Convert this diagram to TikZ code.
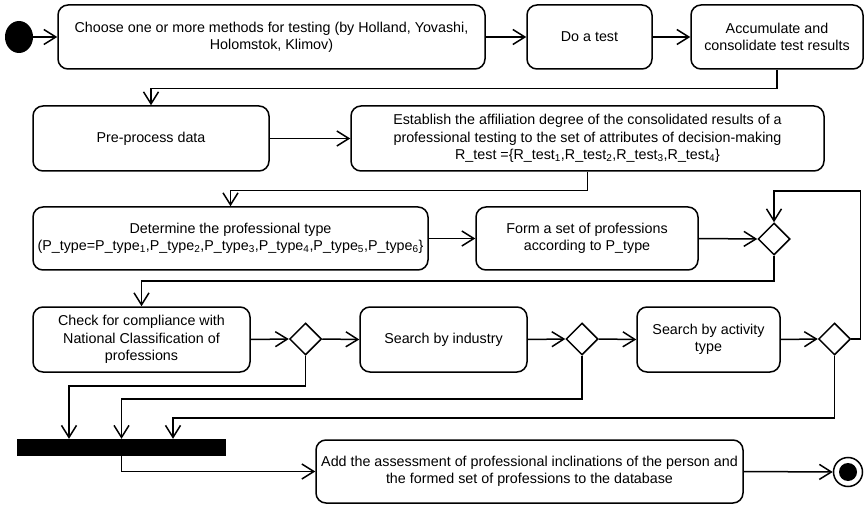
\documentclass[tikz,border=0pt]{standalone}
\usepackage{fontspec}
\setmainfont{Liberation Sans}
\usetikzlibrary{arrows.meta,shapes.geometric}
\begin{document}
\begin{tikzpicture}[x=1pt,y=-1pt,
  every node/.style={font=\fontsize{14.3}{17.2}\selectfont},
  act/.style={draw,rounded corners=10pt,line width=1.5pt,align=center,inner sep=0pt},
  dec/.style={draw,diamond,line width=1.5pt,minimum width=32pt,minimum height=32pt,inner sep=0pt},
  flow/.style={line width=1.5pt,-{Straight Barb[length=12pt,width=15pt,line width=1.5pt]}},
]
\useasboundingbox (0,0) rectangle (865,505);

% initial and final states
\node[ellipse,fill,minimum width=28pt,minimum height=32pt,inner sep=0pt] (st) at (19,37) {};
\node[circle,draw,line width=1.5pt,minimum size=29pt,inner sep=0pt] (en) at (848,472) {};
\node[circle,fill,minimum size=18pt,inner sep=0pt] (enin) at (848,472) {};

% activities
\node[act,minimum width=427pt,minimum height=64pt] (b1) at (271.5,37)
  {Choose one or more methods for testing (by Holland, Yovashi,\\Holomstok, Klimov)};
\node[act,minimum width=125pt,minimum height=64pt] (b2) at (589.5,37) {Do a test};
\node[act,minimum width=172pt,minimum height=64pt] (b3) at (777,37)
  {Accumulate and\\consolidate test results};
\node[act,minimum width=236pt,minimum height=65pt] (b4) at (151,138.5) {Pre-process data};
\node[act,minimum width=473pt,minimum height=65pt] (b5) at (587.5,138.5)
  {Establish the affiliation degree of the consolidated results of a\\
   professional testing to the set of attributes of decision-making\\
   R\_test =\{R\_test\textsubscript{1},R\_test\textsubscript{2},R\_test\textsubscript{3},R\_test\textsubscript{4}\}};
\node[act,minimum width=395pt,minimum height=63pt] (b6) at (230.5,238.5)
  {Determine the professional type\\
   (P\_type=P\_type\textsubscript{1},P\_type\textsubscript{2},P\_type\textsubscript{3},P\_type\textsubscript{4},P\_type\textsubscript{5},P\_type\textsubscript{6}\}};
\node[act,minimum width=222pt,minimum height=63pt] (b7) at (587,238.5)
  {Form a set of professions\\according to P\_type};
\node[act,minimum width=217pt,minimum height=65pt] (b8) at (141.5,339.5)
  {Check for compliance with\\National Classification of\\professions};
\node[act,minimum width=167pt,minimum height=65pt] (b9) at (443.5,339.5) {Search by industry};
\node[act,minimum width=143pt,minimum height=65pt] (b10) at (708.5,339.5)
  {Search by activity\\type};
\node[act,minimum width=427pt,minimum height=63pt] (b11) at (529.5,471.5)
  {Add the assessment of professional inclinations of the person and\\
   the formed set of professions to the database};

% decisions
\node[dec] (d1) at (774,239) {};
\node[dec] (d2) at (305.5,339) {};
\node[dec] (d3) at (582,339) {};
\node[dec] (d4) at (834.5,339) {};

% join bar
\node[fill,minimum width=209pt,minimum height=17pt,inner sep=0pt] (bar) at (121.5,447.5) {};

% flows
\draw[flow] (st.east) -- (b1.west);
\draw[flow] (b1.east) -- (b2.west);
\draw[flow] (b2.east) -- (b3.west);
\draw[flow] (b3.south) -- ++(0,19) -| (b4.north);
\draw[flow] (b4.east) -- (b5.west);
\draw[flow] (b5.south) -- ++(0,19) -| (b6.north);
\draw[flow] (b6.east) -- (b7.west);
\draw[flow] (b7.east) -- (d1.west);
\draw[flow] (d1.south) -- ++(0,25) -| (b8.north);
\draw[flow] (b8.east) -- (d2.west);
\draw[flow] (d2.east) -- (b9.west);
\draw[flow] (b9.east) -- (d3.west);
\draw[flow] (d3.east) -- (b10.west);
\draw[flow] (b10.east) -- (d4.west);
\draw[flow] (d4.east) -- ++(9,0) -- ++(0,-148) -| (d1.north);
\draw[flow] (d2.south) -- ++(0,30) -| ([xshift=-52.5pt]bar.north);
\draw[flow] (d3.south) -- ++(0,43) -| (bar.north);
\draw[flow] (d4.south) -- ++(0,62) -| ([xshift=51.5pt]bar.north);
\draw[flow] (bar.south) |- (b11.west);
\draw[flow] (b11.east) -- (en.west);
\end{tikzpicture}
\end{document}
